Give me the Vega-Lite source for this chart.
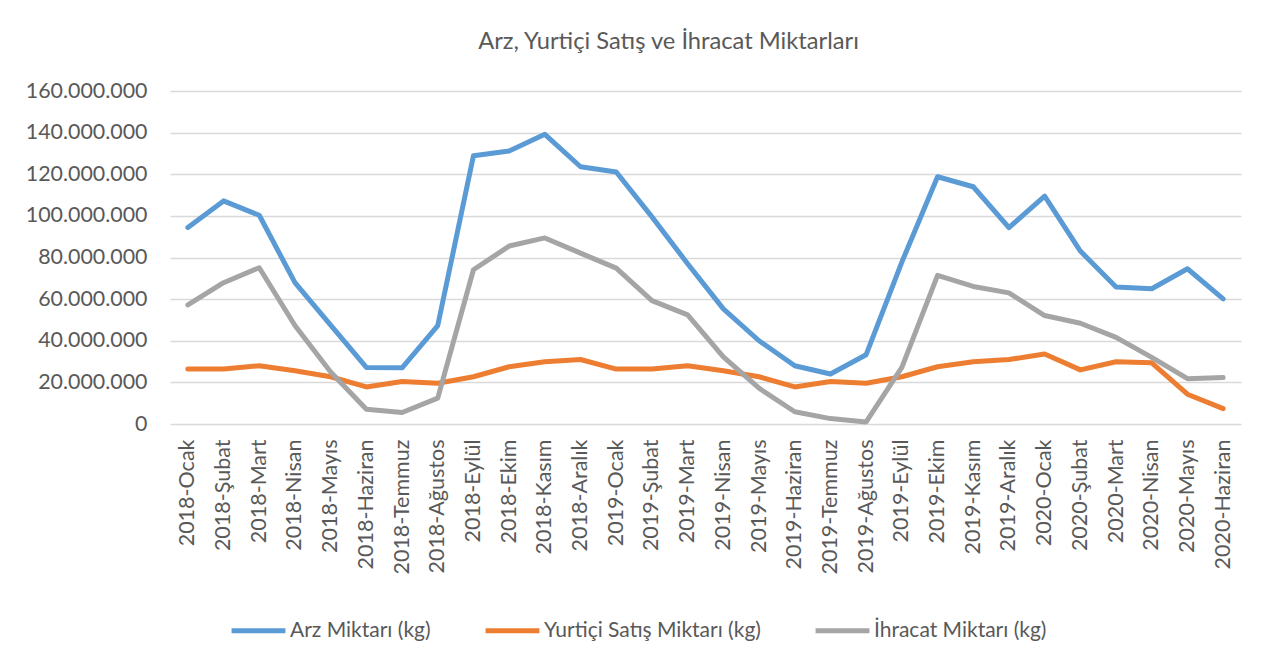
{
  "$schema": "https://vega.github.io/schema/vega-lite/v6.json",
  "width": 1071,
  "height": 333,
  "autosize": "none",
  "padding": {"left": 170, "top": 91, "right": 30, "bottom": 242},
  "background": "white",
  "title": {
    "text": "Arz, Yurtiçi Satış ve İhracat Miktarları",
    "anchor": "middle",
    "frame": "group",
    "dx": -37,
    "offset": 7,
    "baseline": "alphabetic",
    "font": "Lato",
    "fontSize": 23.7,
    "fontWeight": "normal",
    "color": "#595959"
  },
  "data": {
    "values": [
      {"month": "2018-Ocak", "Arz": 94400000, "Yurtici": 26400000, "Ihracat": 57200000},
      {"month": "2018-Şubat", "Arz": 107200000, "Yurtici": 26400000, "Ihracat": 67900000},
      {"month": "2018-Mart", "Arz": 100300000, "Yurtici": 28000000, "Ihracat": 75100000},
      {"month": "2018-Nisan", "Arz": 67900000, "Yurtici": 25600000, "Ihracat": 47300000},
      {"month": "2018-Mayıs", "Arz": 47500000, "Yurtici": 22700000, "Ihracat": 25000000},
      {"month": "2018-Haziran", "Arz": 27200000, "Yurtici": 17800000, "Ihracat": 7100000},
      {"month": "2018-Temmuz", "Arz": 27000000, "Yurtici": 20400000, "Ihracat": 5500000},
      {"month": "2018-Ağustos", "Arz": 47300000, "Yurtici": 19600000, "Ihracat": 12400000},
      {"month": "2018-Eylül", "Arz": 128900000, "Yurtici": 22700000, "Ihracat": 74100000},
      {"month": "2018-Ekim", "Arz": 131200000, "Yurtici": 27500000, "Ihracat": 85500000},
      {"month": "2018-Kasım", "Arz": 139200000, "Yurtici": 29900000, "Ihracat": 89400000},
      {"month": "2018-Aralık", "Arz": 123600000, "Yurtici": 31000000, "Ihracat": 82100000},
      {"month": "2019-Ocak", "Arz": 121100000, "Yurtici": 26400000, "Ihracat": 74900000},
      {"month": "2019-Şubat", "Arz": 99500000, "Yurtici": 26400000, "Ihracat": 59300000},
      {"month": "2019-Mart", "Arz": 77000000, "Yurtici": 28000000, "Ihracat": 52400000},
      {"month": "2019-Nisan", "Arz": 55300000, "Yurtici": 25600000, "Ihracat": 32300000},
      {"month": "2019-Mayıs", "Arz": 40000000, "Yurtici": 22700000, "Ihracat": 17200000},
      {"month": "2019-Haziran", "Arz": 28000000, "Yurtici": 17800000, "Ihracat": 5900000},
      {"month": "2019-Temmuz", "Arz": 24000000, "Yurtici": 20400000, "Ihracat": 2600000},
      {"month": "2019-Ağustos", "Arz": 33300000, "Yurtici": 19600000, "Ihracat": 1000000},
      {"month": "2019-Eylül", "Arz": 77800000, "Yurtici": 22700000, "Ihracat": 27200000},
      {"month": "2019-Ekim", "Arz": 118800000, "Yurtici": 27500000, "Ihracat": 71400000},
      {"month": "2019-Kasım", "Arz": 114000000, "Yurtici": 29900000, "Ihracat": 66100000},
      {"month": "2019-Aralık", "Arz": 94400000, "Yurtici": 31000000, "Ihracat": 63000000},
      {"month": "2020-Ocak", "Arz": 109500000, "Yurtici": 33600000, "Ihracat": 52100000},
      {"month": "2020-Şubat", "Arz": 83100000, "Yurtici": 26000000, "Ihracat": 48400000},
      {"month": "2020-Mart", "Arz": 65800000, "Yurtici": 29900000, "Ihracat": 41600000},
      {"month": "2020-Nisan", "Arz": 65000000, "Yurtici": 29400000, "Ihracat": 32000000},
      {"month": "2020-Mayıs", "Arz": 74600000, "Yurtici": 14300000, "Ihracat": 21800000},
      {"month": "2020-Haziran", "Arz": 60100000, "Yurtici": 7400000, "Ihracat": 22300000}
    ]
  },
  "transform": [
    {"fold": ["Arz", "Yurtici", "Ihracat"], "as": ["key", "value"]},
    {"lookup": "key", "from": {"data": {"values": [
      {"key": "Arz", "series": "Arz Miktarı (kg)"},
      {"key": "Yurtici", "series": "Yurtiçi Satış Miktarı (kg)"},
      {"key": "Ihracat", "series": "İhracat Miktarı (kg)"}
    ]}, "key": "key", "fields": ["series"]}}
  ],
  "mark": {"type": "line", "strokeWidth": 5, "strokeCap": "round", "strokeJoin": "round"},
  "encoding": {
    "x": {
      "field": "month",
      "type": "ordinal",
      "sort": null,
      "scale": {"type": "point", "padding": 0.5},
      "axis": {
        "title": null,
        "labelAngle": -90,
        "labelAlign": "right",
        "labelBaseline": "middle",
        "labelPadding": 15,
        "ticks": false,
        "domain": false,
        "grid": false,
        "labelFont": "Lato",
        "labelFontSize": 21.5,
        "labelColor": "#595959"
      }
    },
    "y": {
      "field": "value",
      "type": "quantitative",
      "scale": {"domain": [0, 160000000], "nice": false},
      "axis": {
        "title": null,
        "values": [0, 20000000, 40000000, 60000000, 80000000, 100000000, 120000000, 140000000, 160000000],
        "labelExpr": "replace(format(datum.value, ','), /,/g, '.')",
        "ticks": false,
        "domain": false,
        "grid": true,
        "gridColor": "#d9d9d9",
        "gridWidth": 1.5,
        "labelPadding": 23,
        "labelFont": "Lato",
        "labelFontSize": 21.4,
        "labelColor": "#595959"
      }
    },
    "color": {
      "field": "series",
      "type": "nominal",
      "scale": {
        "domain": ["Arz Miktarı (kg)", "Yurtiçi Satış Miktarı (kg)", "İhracat Miktarı (kg)"],
        "range": ["#5b9bd5", "#ed7d31", "#a5a5a5"]
      },
      "legend": {
        "title": null,
        "orient": "none",
        "direction": "horizontal",
        "legendX": 59,
        "legendY": 510,
        "symbolType": "stroke",
        "symbolSize": 2900,
        "symbolStrokeWidth": 5,
        "labelOffset": 2,
        "labelLimit": 500,
        "columnPadding": 44,
        "labelFont": "Lato",
        "labelFontSize": 21,
        "labelColor": "#595959"
      }
    }
  },
  "config": {"view": {"stroke": null}}
}
